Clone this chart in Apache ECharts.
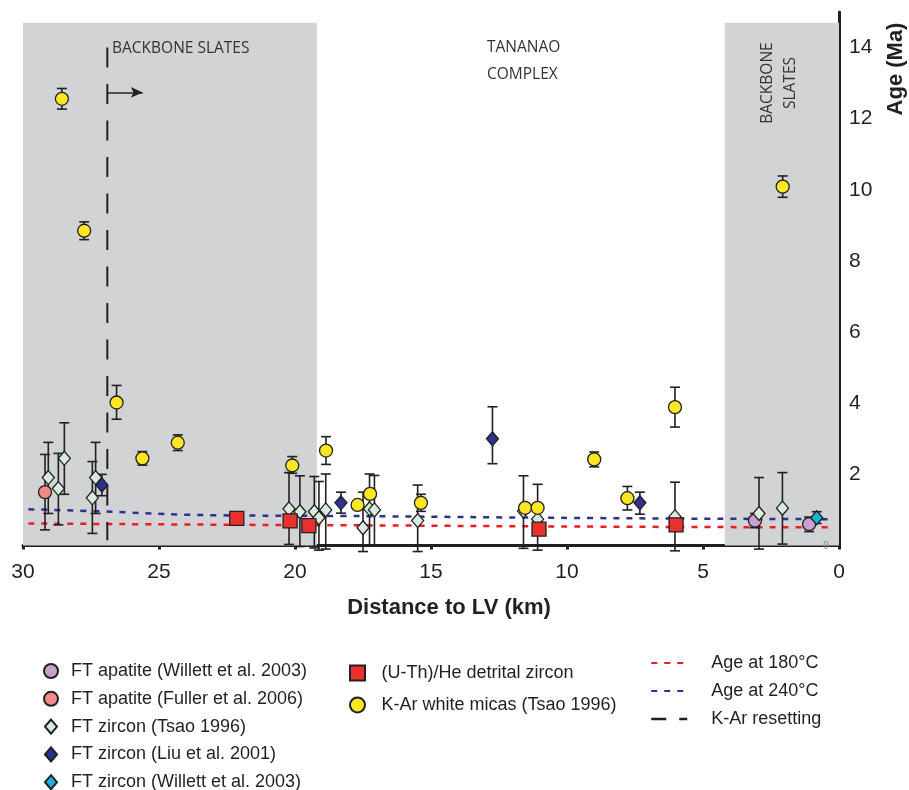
<!DOCTYPE html>
<html>
<head>
<meta charset="utf-8">
<script src="https://cdn.jsdelivr.net/npm/echarts@6/dist/echarts.min.js"></script>
<style>
  html, body { margin: 0; padding: 0; background: #fff; }
  #chart { width: 909px; height: 790px; }
</style>
</head>
<body>
<div id="chart"></div>
<script>
// 数据：[距离 km, 年龄 Ma, 误差下限, 误差上限]
var apatiteWillett = [[3.09, 0.70, 0.50, 0.90], [1.10, 0.60, 0.39, 0.80]];
var apatiteFuller = [[29.19, 1.50, 0.44, 2.56]];
var zirconTsao = [
    [29.07, 1.91, 0.90, 2.90], [28.70, 1.60, 0.58, 2.59], [28.48, 2.45, 1.44, 3.45],
    [27.45, 1.34, 0.34, 2.36], [27.33, 1.91, 0.90, 2.90], [20.22, 1.03, 0.03, 2.05],
    [19.82, 0.95, -0.03, 1.96], [19.29, 0.95, -0.07, 1.94], [19.12, 0.78, -0.13, 1.80],
    [18.87, 1.00, -0.10, 2.01], [17.50, 0.50, -0.17, 1.50], [17.26, 1.03, 0.00, 2.01],
    [17.08, 1.00, 0.00, 1.97], [15.49, 0.70, -0.17, 1.70], [11.60, 0.97, -0.08, 1.96],
    [11.08, 0.74, -0.13, 1.72], [6.03, 0.81, -0.15, 1.78], [2.94, 0.90, -0.10, 1.91],
    [2.08, 1.05, 0.04, 2.05]
];
var zirconLiu = [[27.10, 1.70, 1.40, 2.00], [18.31, 1.20, 0.91, 1.50], [12.74, 3.00, 2.30, 3.90], [7.32, 1.20, 0.88, 1.50]];
var zirconWillett = [[0.82, 0.78, 0.62, 0.95]];
var heZircon = [[22.14, 0.76], [20.18, 0.69], [19.49, 0.56], [11.03, 0.46], [5.99, 0.58]];
var kArMicas = [
    [28.57, 12.56, 12.27, 12.85], [27.75, 8.85, 8.60, 9.10], [26.56, 4.02, 3.55, 4.50],
    [25.61, 2.45, 2.26, 2.64], [24.31, 2.89, 2.67, 3.11], [20.10, 2.25, 2.03, 2.50],
    [18.86, 2.67, 2.28, 3.06], [17.70, 1.14, 1.14, 1.14], [17.24, 1.45, 1.45, 1.45],
    [15.37, 1.20, 0.96, 1.44], [11.54, 1.06, 1.06, 1.06], [11.08, 1.06, 1.06, 1.06],
    [9.00, 2.42, 2.21, 2.63], [7.78, 1.33, 1.00, 1.66], [6.03, 3.89, 3.33, 4.45],
    [2.07, 10.09, 9.79, 10.39]
];
// 等温年龄线
var age180 = [[29.8, 0.62], [22.8, 0.585], [18.3, 0.57], [8.8, 0.53], [0.3, 0.51]];
var age240 = [[29.8, 1.02], [27.6, 0.97], [22.8, 0.85], [18.3, 0.83], [8.8, 0.77], [0.3, 0.74]];
// K-Ar 重置线及箭头
var kArReset = [[26.9, 14.0], [26.9, 0.15]];
var resetArrow = [[26.9, 12.74], [25.6, 12.74]];
// 灰色区域 (Backbone slates)
var slateZones = [[30, 19.2], [4.2, 0]];
var zoneTop = 14.7;
var yTicks = [0, 2, 4, 6, 8, 10, 12, 14];

var font = 'Liberation Sans, Arial';
var ink = '#231f20';
var diamond = 'path://M6,0L12,7L6,14L0,7Z';
var square = 'path://M0,0H10V10H0Z';

var allErr = [];
[apatiteWillett, apatiteFuller, zirconTsao, zirconLiu, zirconWillett, kArMicas].forEach(function (arr) {
    arr.forEach(function (d) {
        if (d[2] !== d[3]) allErr.push([d[0], d[2], d[3]]);
    });
});

function pts(arr) {
    return arr.map(function (d) { return [d[0], d[1]]; });
}

function renderErr(params, api) {
    var top = api.coord([api.value(0), api.value(2)]);
    var bot = api.coord([api.value(0), api.value(1)]);
    var w = 5;
    var st = { stroke: ink, lineWidth: 1.6 };
    return {
        type: 'group',
        children: [
            { type: 'line', shape: { x1: top[0], y1: top[1], x2: bot[0], y2: bot[1] }, style: st },
            { type: 'line', shape: { x1: top[0] - w, y1: top[1], x2: top[0] + w, y2: top[1] }, style: st },
            { type: 'line', shape: { x1: bot[0] - w, y1: bot[1], x2: bot[0] + w, y2: bot[1] }, style: st }
        ]
    };
}

var chart = echarts.init(document.getElementById('chart'));

function scatter(name, arr, symbol, size, color) {
    return {
        name: name,
        type: 'scatter',
        z: 5,
        symbol: symbol,
        symbolSize: size,
        symbolKeepAspect: true,
        data: pts(arr),
        itemStyle: { color: color, borderColor: ink, borderWidth: 1.3, opacity: 1 }
    };
}

var hideSym = { opacity: 0 };

var option = {
    animation: false,
    grid: { left: 23, right: 70, top: 12, bottom: 244.5 },
    xAxis: {
        type: 'value',
        inverse: true,
        min: 0,
        max: 30,
        interval: 5,
        axisLine: { lineStyle: { color: ink, width: 3 } },
        axisTick: { length: 4, lineStyle: { width: 3, color: ink } },
        axisLabel: { fontFamily: font, fontSize: 21, color: ink, margin: 16 },
        splitLine: { show: false }
    },
    yAxis: {
        type: 'value',
        position: 'right',
        min: 0,
        max: 15,
        axisLine: { show: true, lineStyle: { color: ink, width: 3 } },
        axisTick: { show: true, inside: true, length: 5, customValues: yTicks, lineStyle: { width: 3, color: ink } },
        axisLabel: {
            fontFamily: font, fontSize: 21, color: ink, margin: 10,
            customValues: yTicks,
            formatter: function (v) { return v === 0 ? '' : v; }
        },
        splitLine: { show: false }
    },
    legend: [{
        orient: 'vertical', left: 38, top: 657, height: 200, itemWidth: 30, itemHeight: 14, itemGap: 9.8,
        textStyle: { fontFamily: font, fontSize: 18, color: ink },
        data: ['FT apatite (Willett et al. 2003)', 'FT apatite (Fuller et al. 2006)', 'FT zircon (Tsao 1996)',
            'FT zircon (Liu et al. 2001)', 'FT zircon (Willett et al. 2003)']
    }, {
        orient: 'vertical', left: 344, top: 659, height: 200, itemWidth: 38, itemHeight: 15, itemGap: 14,
        textStyle: { fontFamily: font, fontSize: 18, color: ink },
        data: ['(U-Th)/He detrital zircon', 'K-Ar white micas (Tsao 1996)']
    }, {
        orient: 'vertical', left: 645, top: 649, height: 200, itemWidth: 36, itemHeight: 14, itemGap: 10,
        textStyle: { fontFamily: font, fontSize: 18, color: ink, padding: [0, 0, 0, 19] },
        itemStyle: hideSym,
        data: [{ name: 'Age at 180°C', itemStyle: hideSym }, { name: 'Age at 240°C', itemStyle: hideSym },
            { name: 'K-Ar resetting', itemStyle: hideSym, lineStyle: { type: [15, 13], width: 2.5 } }]
    }],
    series: [{
        name: 'zones',
        type: 'line',
        z: 0,
        data: [],
        markArea: {
            silent: true,
            itemStyle: { color: '#d1d3d4' },
            data: slateZones.map(function (z) {
                return [{ xAxis: z[0], yAxis: 0 }, { xAxis: z[1], yAxis: zoneTop }];
            })
        }
    }, {
        name: 'Age at 180°C',
        type: 'line',
        z: 2,
        symbol: 'none',
        smooth: true,
        data: age180,
        lineStyle: { color: '#ec1c24', width: 2.5, type: [6, 7] },
        itemStyle: { color: '#ec1c24' }
    }, {
        name: 'Age at 240°C',
        type: 'line',
        z: 2,
        symbol: 'none',
        smooth: true,
        data: age240,
        lineStyle: { color: '#2e3192', width: 2.5, type: [6, 7] },
        itemStyle: { color: '#2e3192' }
    }, {
        name: 'K-Ar resetting',
        type: 'line',
        z: 2,
        symbol: 'none',
        data: kArReset,
        lineStyle: { color: ink, width: 2, type: [20, 16.5] },
        itemStyle: { color: ink },
        markLine: {
            silent: true,
            symbol: ['none', 'arrow'],
            symbolSize: [8, 12],
            label: { show: false },
            lineStyle: { color: ink, width: 1.5, type: 'solid' },
            data: [[{ coord: resetArrow[0] }, { coord: resetArrow[1] }]]
        }
    }, {
        name: 'errors',
        type: 'custom',
        z: 3,
        renderItem: renderErr,
        encode: { x: 0, y: [1, 2] },
        data: allErr
    },
        scatter('FT apatite (Willett et al. 2003)', apatiteWillett, 'circle', 13, '#c9a0cf'),
        scatter('FT apatite (Fuller et al. 2006)', apatiteFuller, 'circle', 13, '#ef8c87'),
        scatter('FT zircon (Tsao 1996)', zirconTsao, diamond, 14, '#d6ecdc'),
        scatter('FT zircon (Liu et al. 2001)', zirconLiu, diamond, 14, '#2e3192'),
        scatter('FT zircon (Willett et al. 2003)', zirconWillett, diamond, 14, '#1bb4d8'),
        scatter('(U-Th)/He detrital zircon', heZircon, square, 14, '#e9322e'),
        scatter('K-Ar white micas (Tsao 1996)', kArMicas, 'circle', 13, '#fde725')
    ],
    graphic: [{
        type: 'text', left: 112, top: 41, z: 10,
        style: { text: 'BACKBONE SLATES', font: '15.5px "Open Sans"', fill: '#333' }
    }, {
        type: 'text', left: 487, top: 34, z: 10,
        style: { text: 'TANANAO\nCOMPLEX', font: '15.5px "Open Sans"', fill: '#333', lineHeight: 27 }
    }, {
        type: 'text', x: 779, y: 83, rotation: Math.PI / 2, z: 10,
        style: { text: 'BACKBONE\nSLATES', font: '15.5px "Open Sans"', fill: '#333', lineHeight: 23,
            align: 'center', verticalAlign: 'middle' }
    }, {
        type: 'text', x: 896, y: 69, rotation: Math.PI / 2, z: 10,
        style: { text: 'Age (Ma)', font: 'bold 22px "Liberation Sans"', fill: ink,
            align: 'center', verticalAlign: 'middle' }
    }, {
        type: 'text', x: 449, y: 608, z: 10,
        style: { text: 'Distance to LV (km)', font: 'bold 22px "Liberation Sans"', fill: ink,
            align: 'center', verticalAlign: 'middle' }
    }, {
        type: 'text', x: 826, y: 546, z: 10,
        style: { text: '0', font: '10px "Liberation Sans"', fill: '#888', align: 'center', verticalAlign: 'middle' }
    }]
};

chart.setOption(option);
</script>
</body>
</html>
